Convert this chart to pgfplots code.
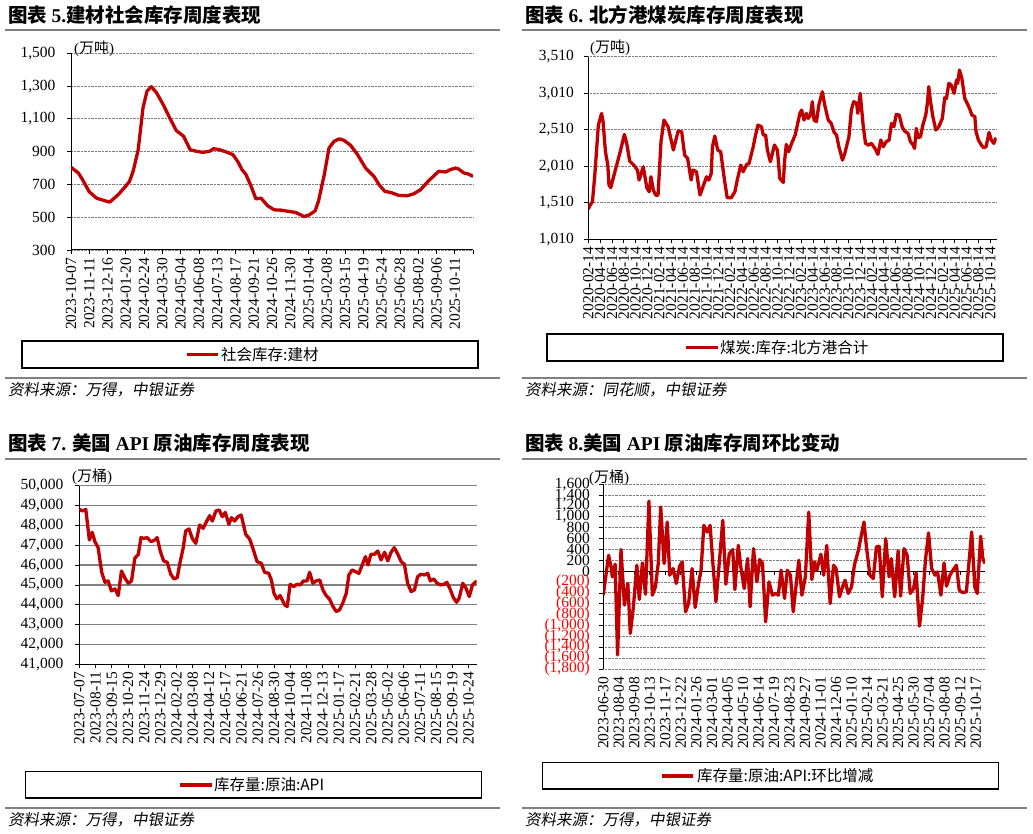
\documentclass[border=0pt]{standalone}
\usepackage{pgfplots}
\pgfplotsset{compat=1.18}
\usepackage{fontspec}
\setmainfont{Liberation Serif}
\newfontfamily\cjk{Noto Sans CJK SC}
\newfontfamily\cjkit[FakeSlant=0.18]{Noto Sans CJK SC}
\definecolor{dred}{RGB}{192,0,0}
\definecolor{sepgray}{RGB}{128,128,128}
\pgfplotsset{
  panel/.style={
    scale only axis, anchor=south west,
    axis x line*=bottom, axis y line*=left,
    tick align=outside, major tick length=4pt,
    tick style={black, line width=0.8pt},
    axis line style={black, line width=1pt},
    ticklabel style={font=\fontsize{15.5}{15.5}\selectfont},
    scaled y ticks=false, scaled x ticks=false,
    /pgf/number format/assume math mode=true,
    /pgf/number format/1000 sep={,},
    xticklabel style={rotate=90, anchor=east, yshift=0pt},
    ymajorgrids,
    grid style={densely dotted, gray, line width=0.9pt},
  },
  dataline/.style={dred, line width=3.3pt, line join=round},
}
\newcommand\ttl{\fontsize{19.5}{22}\selectfont\cjk\bfseries}
\newcommand\lgd{\fontsize{15.5}{16}\selectfont\cjk}
\newcommand\src{\fontsize{15.5}{16}\selectfont\cjkit}
\newcommand\unit{\fontsize{15}{15}\selectfont}
\begin{document}
\begin{tikzpicture}[x=1pt,y=1pt]
\useasboundingbox (0,0) rectangle (1033,834);
\begin{scope}[shift={(0,834)}, yscale=-1]
  % titles
  \node[anchor=west, inner sep=0] at (8,15) {\ttl 图表 {\rmfamily 5.}建材社会库存周度表现};
  \node[anchor=west, inner sep=0] at (525,15) {\ttl 图表 {\rmfamily 6.} 北方港煤炭库存周度表现};
  \node[anchor=west, inner sep=0] at (8,443) {\ttl 图表 {\rmfamily 7.} 美国 {\rmfamily API} 原油库存周度表现};
  \node[anchor=west, inner sep=0] at (525,443) {\ttl 图表 {\rmfamily 8.}美国 {\rmfamily API} 原油库存周环比变动};
  % separators
  \draw[sepgray, line width=1.6pt] (5,30) -- (500,30);
  \draw[sepgray, line width=1.6pt] (522,30) -- (1027,30);
  \draw[sepgray, line width=1.6pt] (5,378) -- (500,378);
  \draw[sepgray, line width=1.6pt] (522,378) -- (1027,378);
  \draw[sepgray, line width=1.6pt] (5,459) -- (500,459);
  \draw[sepgray, line width=1.6pt] (522,459) -- (1027,459);
  \draw[sepgray, line width=1.6pt] (5,808) -- (500,808);
  \draw[sepgray, line width=1.6pt] (522,808) -- (1027,808);
  % units
  \node[anchor=west, inner sep=0] at (74,49) {\unit ({\cjk 万吨})};
  \node[anchor=west, inner sep=0] at (590,48) {\unit ({\cjk 万吨})};
  \node[anchor=west, inner sep=0] at (72,477) {\unit ({\cjk 万桶})};
  \node[anchor=west, inner sep=0] at (589,478) {\unit ({\cjk 万桶})};
  % legends
  \draw[black, line width=1.2pt] (22,341) rectangle (478,368);
  \draw[dred, line width=3.5pt] (187,354.5) -- (218,354.5);
  \node[anchor=west, inner sep=0] at (221,354.5) {\lgd 社会库存:建材};
  \draw[black, line width=1.2pt] (547,334) rectangle (1003,361);
  \draw[dred, line width=3.5pt] (686,347.5) -- (718,347.5);
  \node[anchor=west, inner sep=0] at (720,347.5) {\lgd 煤炭:库存:北方港合计};
  \draw[black, line width=1.2pt] (25.7,771.7) rectangle (481.7,798);
  \draw[dred, line width=3.5pt] (180,785) -- (211.7,785);
  \node[anchor=west, inner sep=0] at (214,785) {\lgd 库存量:原油:API};
  \draw[black, line width=1.2pt] (542.7,762.7) rectangle (998.3,789);
  \draw[dred, line width=3.5pt] (661.7,776) -- (693,776);
  \node[anchor=west, inner sep=0] at (697,776) {\lgd 库存量:原油:API:环比增减};
  % sources
  \node[anchor=west, inner sep=0] at (8,390) {\src 资料来源：万得，中银证券};
  \node[anchor=west, inner sep=0] at (525,390) {\src 资料来源：同花顺，中银证券};
  \node[anchor=west, inner sep=0] at (8,820) {\src 资料来源：万得，中银证券};
  \node[anchor=west, inner sep=0] at (525,820) {\src 资料来源：万得，中银证券};
\end{scope}

% ---------- Panel 1 ----------
\begin{axis}[panel, at={(71pt,584pt)}, width=402pt, height=196.7pt,
  xmin=0, xmax=110, ymin=300, ymax=1500,
  ytick={300,500,...,1500},
  yticklabel style={xshift=-8pt},
  xtick={0,5,...,110},
  xticklabels={2023-10-07,2023-11-11,2023-12-16,2024-01-20,2024-02-24,2024-03-30,2024-05-04,2024-06-08,2024-07-13,2024-08-17,2024-09-21,2024-10-26,2024-11-30,2025-01-04,2025-02-08,2025-03-15,2025-04-19,2025-05-24,2025-06-28,2025-08-02,2025-09-06,2025-10-11,{}},
]
\addplot[dataline] coordinates {(0,805)(2,770)(3,735)(5,655)(7,616)(9.3,600)(10.6,592)(12.9,637)(15,690)(16,718)(17,780)(18.4,912)(19.7,1167)(20.8,1269)(22,1296)(23.4,1259)(25.2,1188)(27,1106)(28.8,1029)(30.8,994)(32.6,912)(34.3,902)(36,896)(37.9,902)(39,918)(40.6,912)(42.5,898)(44.3,882)(45.6,841)(46.8,790)(47.9,759)(49.3,688)(50.6,612)(52,616)(53.8,570)(55.6,545)(57.5,543)(59.7,535)(61.5,529)(63.8,504)(65.2,514)(66.8,539)(67.7,596)(69.3,759)(70.6,922)(72,963)(73.4,978)(74.7,969)(76.5,939)(78.4,882)(80.6,800)(82.9,749)(84.3,698)(85.9,657)(87.5,651)(89.7,633)(92,631)(93.8,643)(95.6,667)(97.9,723)(100.6,780)(102.5,776)(103.8,790)(105.2,800)(105.9,796)(107.5,770)(108.8,763)(110,749)};
\end{axis}

% ---------- Panel 2 ----------
\begin{axis}[panel, at={(588.3pt,594.7pt)}, width=408.4pt, height=182.6pt,
  xmin=0, xmax=69.1, ymin=1010, ymax=3510,
  ytick={1010,1510,...,3510},
  yticklabel style={xshift=-7pt},
  xtick={0,2,...,68},
  xticklabels={2020-02-14,2020-04-14,2020-06-14,2020-08-14,2020-10-14,2020-12-14,2021-02-14,2021-04-14,2021-06-14,2021-08-14,2021-10-14,2021-12-14,2022-02-14,2022-04-14,2022-06-14,2022-08-14,2022-10-14,2022-12-14,2023-02-14,2023-04-14,2023-06-14,2023-08-14,2023-10-14,2023-12-14,2024-02-14,2024-04-14,2024-06-14,2024-08-14,2024-10-14,2024-12-14,2025-02-14,2025-04-14,2025-06-14,2025-08-14,2025-10-14},
]
\addplot[dataline] coordinates {(0,1423)(0.3,1478)(0.7,1524)(1.1,1889)(1.7,2574)(2.25,2734)(2.5,2620)(2.9,2209)(3.3,2026)(3.5,1752)(3.8,1716)(4.2,1843)(4.8,2026)(5.4,2209)(6.1,2446)(6.5,2323)(7.0,2081)(7.8,2017)(8.3,1958)(8.6,1821)(9.3,2003)(9.9,1716)(10.3,1661)(10.6,1866)(11.0,1684)(11.4,1615)(11.8,1615)(12.3,2346)(12.8,2642)(13.5,2551)(14.4,2232)(15.2,2492)(15.8,2483)(16.3,2163)(16.8,2118)(17.4,1821)(17.7,1958)(18.3,1935)(18.9,1615)(19.4,1729)(20.0,1866)(20.4,1821)(20.8,1912)(21.0,2277)(21.4,2424)(21.9,2232)(22.4,2209)(23.0,1843)(23.5,1579)(24.2,1579)(24.8,1661)(25.2,1821)(25.8,2026)(26.2,1935)(26.8,2035)(27.2,2049)(27.9,2277)(28.3,2437)(28.7,2574)(29.3,2551)(29.6,2437)(30.0,2437)(30.3,2232)(30.8,2072)(31.5,2300)(32.0,2232)(32.4,1843)(33.0,1789)(33.2,2072)(33.5,2309)(33.9,2209)(34.4,2323)(35.0,2437)(35.8,2734)(36.1,2779)(36.5,2642)(36.9,2734)(37.2,2665)(37.6,2711)(37.9,2894)(38.2,2642)(38.6,2620)(39.0,2848)(39.6,3030)(40.0,2848)(40.6,2642)(41.1,2597)(41.6,2473)(42.0,2437)(42.4,2277)(43.0,2094)(43.4,2186)(44.1,2414)(44.5,2779)(44.9,2894)(45.4,2871)(45.6,2734)(46.0,3008)(46.5,2574)(46.9,2323)(47.4,2300)(47.9,2323)(48.5,2254)(49.0,2172)(49.5,2369)(49.9,2277)(50.4,2346)(50.9,2369)(51.3,2597)(51.7,2551)(52.1,2720)(52.6,2711)(53.1,2551)(53.5,2492)(54.1,2460)(54.5,2346)(54.9,2309)(55.2,2254)(55.5,2528)(55.8,2401)(56.2,2414)(56.6,2574)(57.1,2711)(57.4,2894)(57.6,3099)(57.9,2894)(58.3,2688)(58.8,2506)(59.3,2551)(59.9,2665)(60.3,2948)(60.6,2939)(61.0,3145)(61.4,3122)(61.9,3008)(62.3,3190)(62.5,3145)(62.8,3327)(63.2,3213)(63.7,2939)(64.1,2871)(64.5,2802)(64.9,2711)(65.4,2688)(65.6,2483)(66.0,2369)(66.5,2300)(66.9,2264)(67.3,2277)(67.8,2473)(68.2,2369)(68.6,2323)(69.0,2401)};
\end{axis}

% ---------- Panel 3 ----------
\begin{axis}[panel, at={(79.3pt,169.7pt)}, width=397.4pt, height=178.6pt,
  xmin=0, xmax=122.5, ymin=41000, ymax=50000,
  ytick={41000,42000,...,50000},
  yticklabel style={xshift=-8.5pt},
  grid style={solid, sepgray, line width=1.2pt},
  xtick={0,5,...,120},
  xticklabels={2023-07-07,2023-08-11,2023-09-15,2023-10-20,2023-11-24,2023-12-29,2024-02-02,2024-03-08,2024-04-12,2024-05-17,2024-06-21,2024-07-26,2024-08-30,2024-10-04,2024-11-08,2024-12-13,2025-01-17,2025-02-21,2025-03-28,2025-05-02,2025-06-06,2025-07-11,2025-08-15,2025-09-19,2025-10-24},
]
\addplot[dataline] coordinates {(0,48809)(1,48725)(2,48809)(3.1,47265)(4,47651)(4.8,47181)(5.8,46879)(6.9,45637)(7.9,45134)(8.9,45201)(9.9,44698)(11,44798)(12,44463)(13,45704)(14.1,45335)(15.1,45083)(16.1,45201)(17.1,46342)(18.2,46543)(19,47382)(19.9,47349)(20.9,47382)(22.1,47181)(23.3,47265)(24,47382)(25,46677)(26,46208)(27.1,46141)(28.2,45537)(29.2,45302)(30.2,45369)(31,46090)(32,46845)(32.8,47718)(33.8,47819)(34.9,47315)(35.9,47097)(37.1,48020)(38.2,47852)(39.2,48188)(40.2,48490)(41,48221)(42.1,48725)(43.1,48775)(44.1,48440)(45,48658)(46.1,48054)(46.9,48389)(47.9,48221)(48.9,48440)(49.9,48523)(51.3,47550)(52.5,47315)(53.5,46845)(54.8,46174)(56.1,46090)(57.1,45637)(58.4,45587)(59.2,45251)(60,44580)(60.9,44295)(61.9,44463)(63.3,43993)(64.1,43909)(65,45033)(66.1,44916)(67.1,45033)(68.1,45000)(69.1,45201)(70.2,45201)(71,45637)(72,45083)(73,45201)(74.1,45251)(75.1,44748)(76.1,44463)(77.1,44295)(78.2,43909)(79.2,43657)(80.2,43741)(81.2,44077)(82.3,44580)(83.1,45503)(84.1,45754)(85.1,45671)(86.2,45587)(87.2,46006)(88.2,46426)(89,46006)(89.9,46543)(91,46543)(92,46711)(93,46258)(94.1,46644)(95.1,46208)(96.1,46644)(97.1,46879)(98.2,46543)(99.2,46174)(100.2,46040)(101.2,45083)(102.3,44664)(103.3,44748)(104.3,45419)(105.3,45537)(106.4,45503)(107.4,45587)(108.2,45201)(109.2,45302)(110.3,45083)(111.3,45000)(112.5,45033)(113.3,45134)(114.4,44748)(115.3,44362)(116.3,44127)(117.1,44329)(118.2,45083)(119.2,44832)(120.2,44413)(121.2,45000)(122.5,45201)};
\end{axis}

% ---------- Panel 4 ----------
\begin{axis}[panel, at={(603.3pt,165pt)}, width=381.7pt, height=184.7pt,
  xmin=0, xmax=123, ymin=-1800, ymax=1600,
  x axis line style={draw=none},
  xtick style={draw=none},
  ytick={-1800,-1600,...,1600},
  yticklabels={{\color{red}(1,800)},{\color{red}(1,600)},{\color{red}(1,400)},{\color{red}(1,200)},{\color{red}(1,000)},{\color{red}(800)},{\color{red}(600)},{\color{red}(400)},{\color{red}(200)},0,200,400,600,800,{1,000},{1,200},{1,400},{1,600}},
  yticklabel style={xshift=-6pt},
  extra y ticks={0}, extra y tick labels={},
  extra y tick style={grid style={solid, black, line width=1.3pt}, major tick length=0pt},
  xtick={0,5,...,120},
  xticklabels={2023-06-30,2023-08-04,2023-09-08,2023-10-13,2023-11-17,2023-12-22,2024-01-26,2024-03-01,2024-04-05,2024-05-10,2024-06-14,2024-07-19,2024-08-23,2024-09-27,2024-11-01,2024-12-06,2025-01-10,2025-02-14,2025-03-21,2025-04-25,2025-05-30,2025-07-04,2025-08-08,2025-09-12,2025-10-17},
]
\pgfplotsinvokeforeach{0,5,...,120}{\draw[black, line width=0.8pt] (axis cs:#1,0) -- ++(0pt,-4pt);}
\addplot[dataline] coordinates {(0,-441)(1.7,294)(2.5,80)(2.9,-104)(3.8,129)(4.6,-1542)(5.7,398)(6.8,-624)(7.9,-226)(8.7,-1144)(9.7,-655)(10.8,110)(11.6,-520)(12.6,153)(13.6,-422)(14.7,1291)(15.8,-441)(16.8,-288)(17.7,141)(18.5,1181)(19.6,141)(20.6,906)(21.4,-73)(22.5,49)(23.5,-226)(24.6,92)(25.4,171)(26.5,-747)(27.5,-594)(28.6,49)(29.6,-667)(30.7,-226)(31.5,18)(32.4,845)(33.5,722)(34.4,845)(35.3,153)(36.3,-563)(37.4,171)(38.5,936)(39.5,-239)(40.6,324)(41.7,398)(42.4,-337)(43.5,477)(44.3,80)(45.4,-318)(46.5,233)(47.3,-655)(48.4,416)(49.5,-196)(50.4,214)(51.3,141)(52.3,-930)(53.4,-196)(54.5,-441)(55.5,-410)(56.4,-441)(57.3,18)(58.4,-502)(59.3,18)(60.3,-73)(61.2,-747)(63,202)(64,-441)(65.1,-104)(66.2,1089)(67.2,-153)(68.1,171)(68.8,18)(70.1,312)(71,-73)(72,477)(73.1,-594)(74.2,110)(75,49)(76.1,-471)(77.1,-288)(77.9,-165)(78.9,-410)(80,-288)(80.9,110)(82.2,386)(83,618)(84,906)(84.8,447)(85.9,-73)(87,-135)(88,447)(88.9,459)(89.9,-471)(91,600)(92.1,-104)(92.8,233)(93.9,-471)(95,373)(95.8,-459)(96.9,416)(97.9,294)(98.9,-410)(100,-318)(100.8,-31)(101.9,-1010)(102.9,-502)(103.8,202)(104.8,704)(105.8,49)(106.9,-73)(107.7,-12)(108.8,-441)(109.8,153)(110.6,-275)(111.7,-73)(112.8,31)(113.8,110)(114.7,-349)(115.7,-392)(117,-379)(117.9,202)(118.7,722)(119.7,-288)(120.5,-410)(121.6,643)(122.3,233)(123,141)};
\end{axis}
\end{tikzpicture}
\end{document}
